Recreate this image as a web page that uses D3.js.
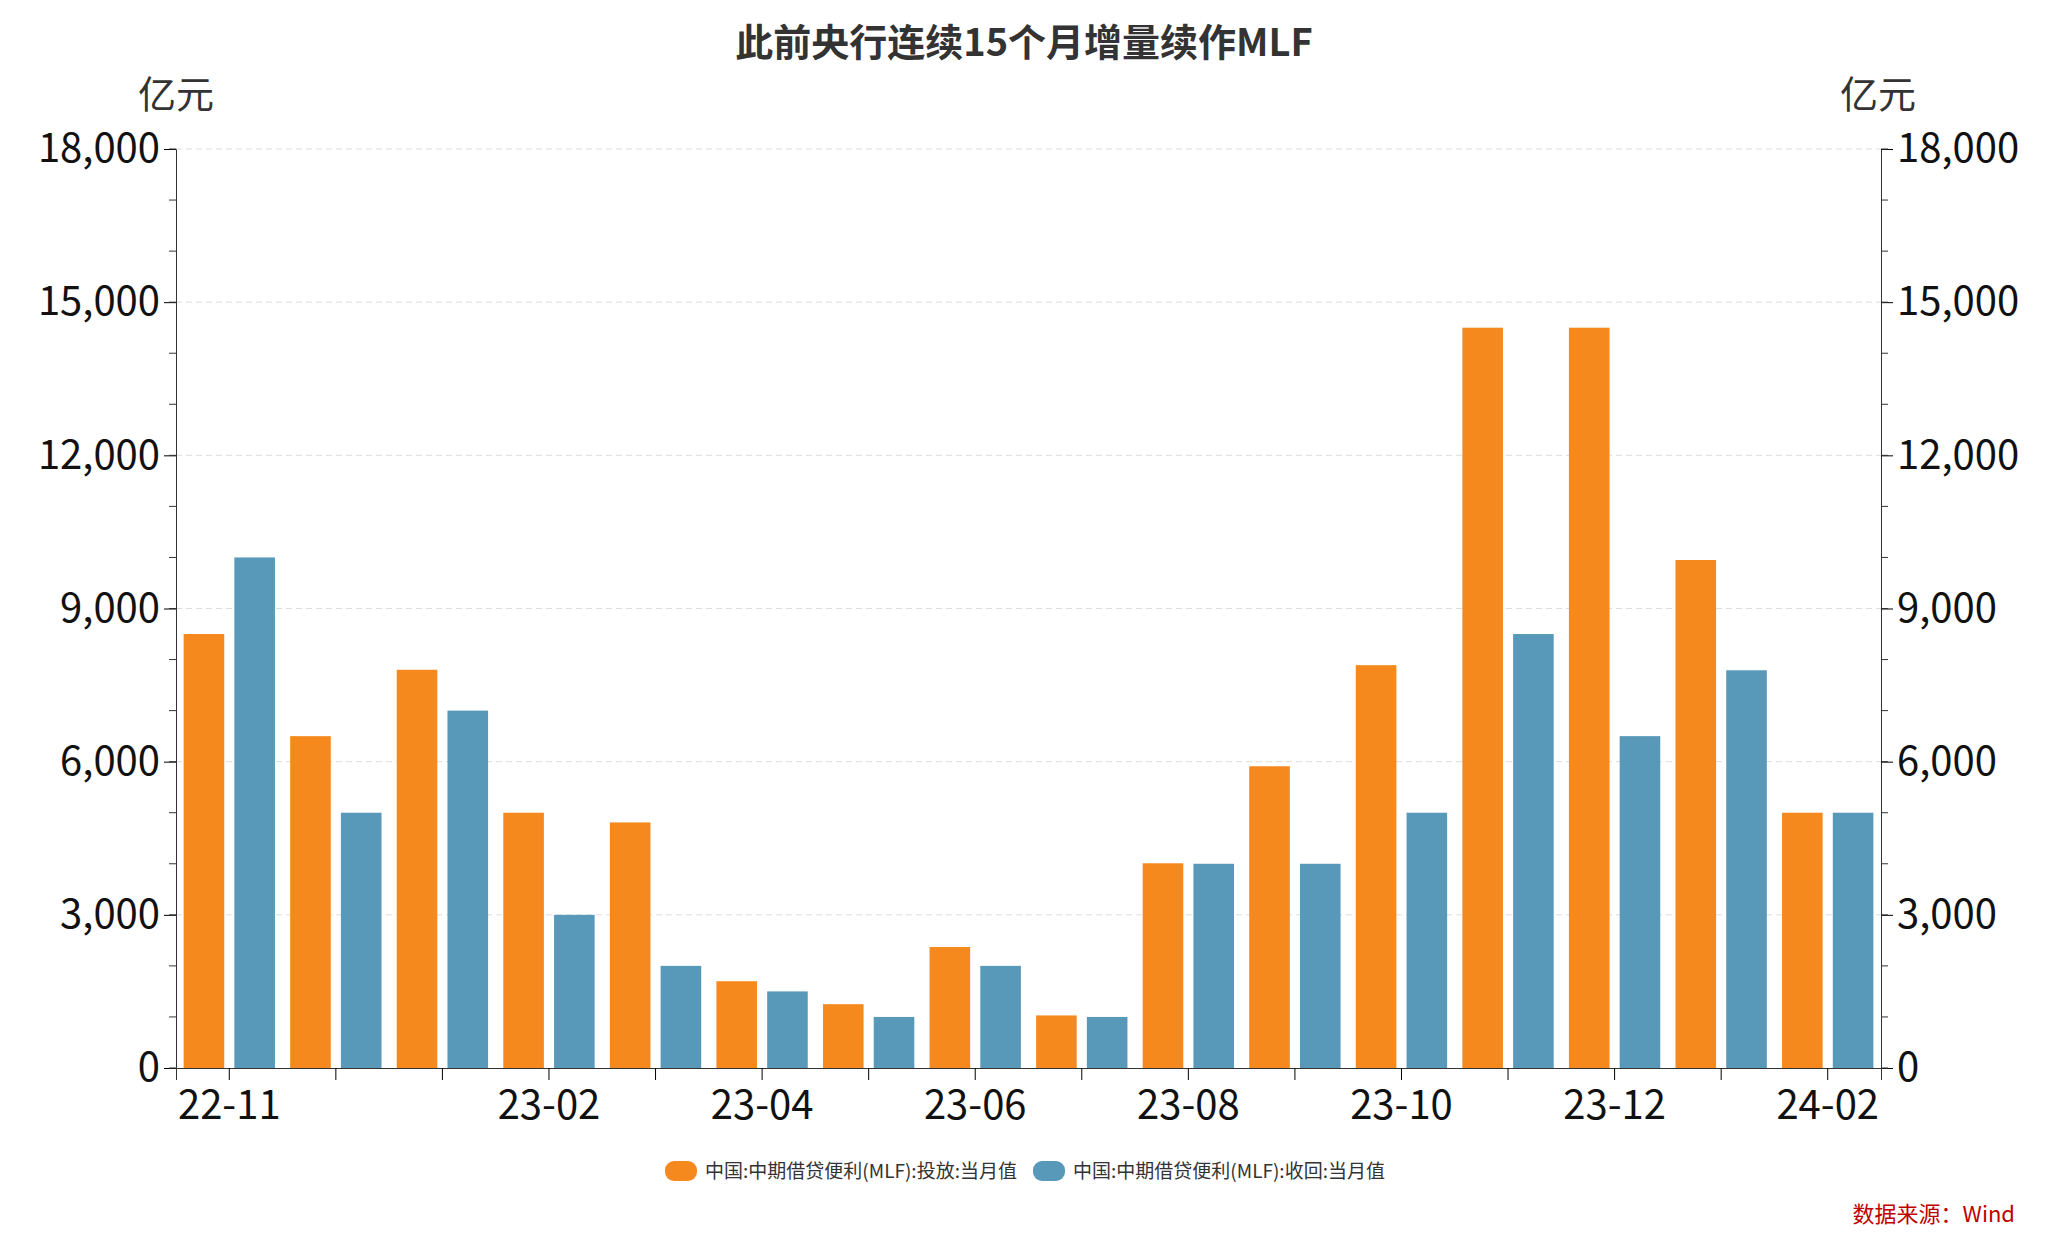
<!DOCTYPE html><html><head><meta charset="utf-8"><script src="https://cdn.jsdelivr.net/npm/d3@7"></script>
<style>body{margin:0;background:#fff}text{font-family:"Noto Sans CJK SC","Noto Sans",sans-serif}</style></head><body><svg id="c" width="2048" height="1242"></svg>
<script>
const months=["22-11","22-12","23-01","23-02","23-03","23-04","23-05","23-06","23-07","23-08","23-09","23-10","23-11","23-12","24-01","24-02"];
const shownLabels=["22-11","23-02","23-04","23-06","23-08","23-10","23-12","24-02"];
const injected=[8500,6500,7800,5000,4810,1700,1250,2370,1030,4010,5910,7890,14500,14500,9950,5000];
const withdrawn=[10000,5000,7000,3000,2000,1500,1000,2000,1000,4000,4000,5000,8500,6500,7790,5000];
const yTicks=[0,3000,6000,9000,12000,15000,18000];
const seriesNames=["中国:中期借贷便利(MLF):投放:当月值","中国:中期借贷便利(MLF):收回:当月值"];
const colors=["#F5891E","#5899B9"];
const svg=d3.select("#c");
const L=176,R=1881,T=149,B=1068;
const x=d3.scaleBand().domain(months).range([L,R]);
const xi=d3.scaleBand().domain([0,1]).range([0,x.bandwidth()]).paddingInner(0.2).paddingOuter(0.15);
const y=d3.scaleLinear().domain([0,18000]).range([B,T]);
svg.append("g").selectAll("line").data(yTicks.slice(1)).join("line").attr("x1",L).attr("x2",R).attr("y1",y).attr("y2",y).attr("stroke","#ddd").attr("stroke-dasharray","6,4");
[injected,withdrawn].forEach((s,k)=>{
 svg.append("g").selectAll("rect").data(s).join("rect").attr("x",(d,i)=>x(months[i])+xi(k)).attr("width",xi.bandwidth()).attr("y",d=>y(d)).attr("height",d=>B-y(d)).attr("fill",colors[k]);
});
const minor=d3.range(0,18001,1000);
function yAxis(side){
 const ax=(side==="l"?d3.axisLeft(y):d3.axisRight(y)).tickValues(yTicks).tickFormat(d3.format(",")).tickSize(12).tickPadding(4);
 const g=svg.append("g").attr("transform",`translate(${side==="l"?L:R},0)`).call(ax);
 g.select(".domain").attr("stroke","#333");
 g.selectAll("text").attr("font-size",40).attr("fill","#111");
 g.selectAll(".minor").data(minor).join("line").attr("x1",0).attr("x2",side==="l"?-7:7).attr("y1",y).attr("y2",y).attr("stroke","#333");
}
yAxis("l");yAxis("r");
const xa=d3.axisBottom(x).tickSize(12).tickFormat(d=>shownLabels.includes(d)?d:"");
const gx=svg.append("g").attr("transform",`translate(0,${B})`).call(xa);
gx.select(".domain").attr("stroke","#333");
gx.selectAll("text").attr("font-size",40).attr("fill","#111").attr("dy","0.9em");
svg.append("text").attr("x",1024).attr("y",56).attr("text-anchor","middle").attr("font-size",38).attr("font-weight","bold").attr("fill","#333").text("此前央行连续15个月增量续作MLF");
svg.append("text").attr("x",176).attr("y",108).attr("text-anchor","middle").attr("font-size",38).attr("fill","#333").text("亿元");
svg.append("text").attr("x",1878).attr("y",108).attr("text-anchor","middle").attr("font-size",38).attr("fill","#333").text("亿元");
const lg=[[665,seriesNames[0]],[1033,seriesNames[1]]];
lg.forEach(([lx,t],k)=>{
 svg.append("rect").attr("x",lx).attr("y",1161).attr("width",32).attr("height",20).attr("rx",9).attr("fill",colors[k]);
 svg.append("text").attr("x",lx+40).attr("y",1178).attr("font-size",19).attr("fill","#333").text(t);
});
svg.append("text").attr("x",2015).attr("y",1222).attr("text-anchor","end").attr("font-size",22).attr("fill","#C00000").text("数据来源：Wind");
</script></body></html>
